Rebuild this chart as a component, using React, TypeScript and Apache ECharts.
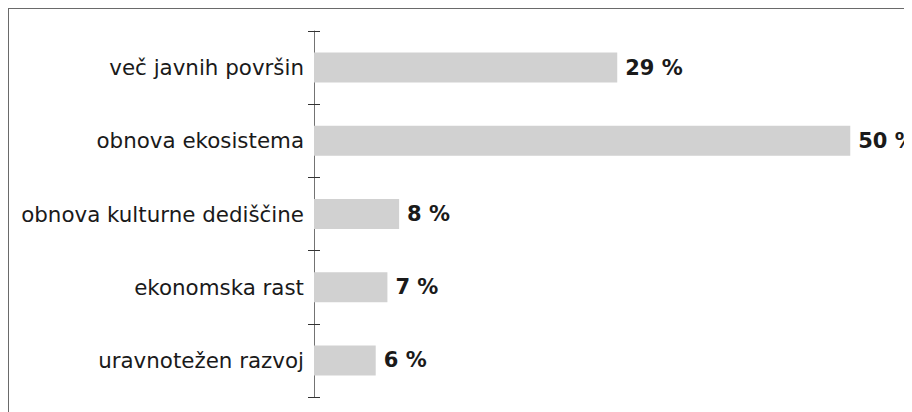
import React, { useEffect, useRef } from "react";
import * as echarts from "echarts";

const categories = [
  "več javnih površin",
  "obnova ekosistema",
  "obnova kulturne dediščine",
  "ekonomska rast",
  "uravnotežen razvoj",
];
const values = [28.5, 50.4, 8.0, 6.9, 5.8];

export default function App() {
  const ref = useRef<HTMLDivElement>(null);
  useEffect(() => {
    if (!ref.current) return;
    const chart = echarts.init(ref.current, null, { renderer: "svg" });
    const font = "'DejaVu Sans', sans-serif";
    chart.setOption({
      animation: false,
      grid: { left: 305, top: 22, height: 366, width: 638.4 },
      xAxis: { type: "value", min: 0, max: 60, show: false },
      yAxis: [
        {
          type: "category",
          data: categories,
          inverse: true,
          axisLine: { show: true, lineStyle: { color: "#737373", width: 1 } },
          axisTick: { show: true, length: 6, lineStyle: { color: "#333" } },
          axisLabel: {
            margin: 10,
            fontSize: 21.4,
            fontFamily: font,
            color: "#1a1a1a",
          },
          splitLine: { show: false },
        },
        {
          type: "category",
          data: categories,
          inverse: true,
          position: "left",
          axisLine: { show: false },
          axisTick: { show: true, inside: true, length: 6, lineStyle: { color: "#333" } },
          axisLabel: { show: false },
          splitLine: { show: false },
        },
      ],
      series: [
        {
          type: "bar",
          data: values,
          yAxisIndex: 0,
          barWidth: 30,
          itemStyle: { color: "#d1d1d1" },
          label: {
            show: true,
            position: "right",
            distance: 8,
            formatter: (p: any) => Math.round(p.value) + " %",
            fontSize: 21,
            fontWeight: "bold",
            fontFamily: font,
            color: "#1a1a1a",
          },
        },
      ],
    });
    return () => chart.dispose();
  }, []);
  return (
    <div style={{ width: 904, height: 404, overflow: "hidden" }}>
      <div
        style={{
          width: 960,
          height: 430,
          border: "1px solid #6a6a6a",
          boxSizing: "content-box",
        }}
      >
        <div ref={ref} style={{ width: 960, height: 430 }} />
      </div>
    </div>
  );
}
